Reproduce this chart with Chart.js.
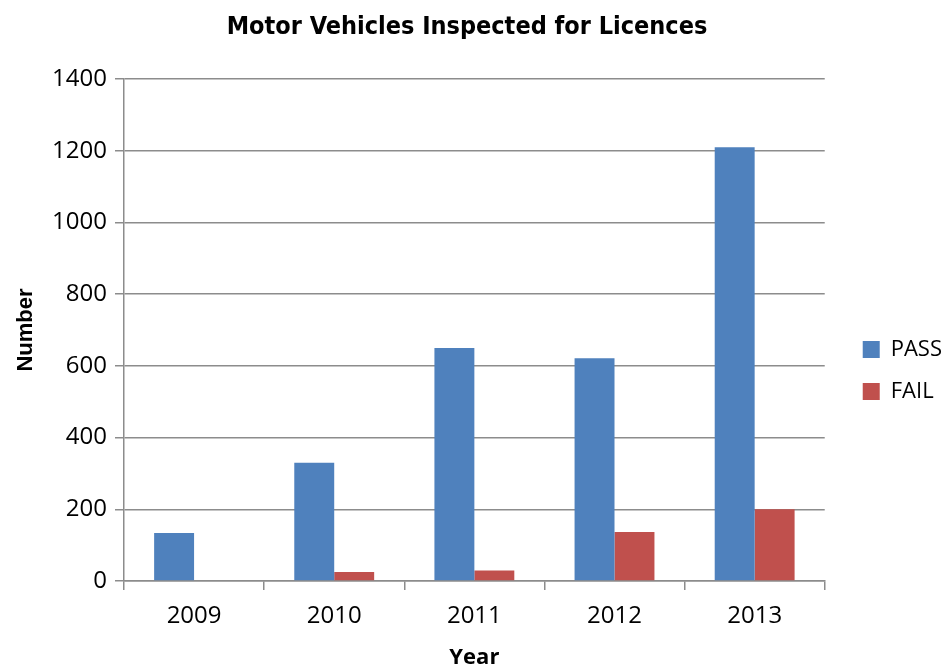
<!DOCTYPE html>
<html>
<head>
<meta charset="utf-8">
<title>Motor Vehicles Inspected for Licences</title>
<script src="https://cdn.jsdelivr.net/npm/chart.js@4/dist/chart.umd.min.js"></script>
<style>
  html, body { margin: 0; padding: 0; background: #fff; }
  #wrap { width: 948px; height: 671px; position: relative; }
</style>
</head>
<body>
<div id="wrap"><canvas id="inspectChart"></canvas></div>
<script>
// data
const years = ['2009', '2010', '2011', '2012', '2013'];
const passCounts = [134, 330, 650, 621, 1210];
const failCounts = [0, 25, 29, 137, 200];
const yTicks = [0, 200, 400, 600, 800, 1000, 1200, 1400];

const gridGray = '#8c8c8c';
const tickFont = { family: '"Open Sans"', size: 24 };

// nudge the legend down/right a bit, like the original
const legendNudge = {
    id: 'legendNudge',
    afterLayout(chart) {
        const lg = chart.legend;
        if (!lg) return;
        lg.top += 35; lg.bottom += 35;
        lg.left += 18; lg.right += 18;
    }
};

const ctx = document.getElementById('inspectChart').getContext('2d');

new Chart(ctx, {
    type: 'bar',
    data: {
        labels: years,
        datasets: [
            { label: 'PASS', data: passCounts, backgroundColor: '#4f81bd', borderWidth: 0 },
            { label: 'FAIL', data: failCounts, backgroundColor: '#c0504d', borderWidth: 0 }
        ]
    },
    plugins: [legendNudge],
    options: {
        responsive: true,
        maintainAspectRatio: false,
        animation: false,
        layout: { padding: { left: 0, right: 14, top: 0, bottom: 0 } },
        datasets: {
            bar: { categoryPercentage: 0.57, barPercentage: 1.0 }
        },
        plugins: {
            title: {
                display: true,
                text: 'Motor Vehicles Inspected for Licences',
                color: '#000',
                font: { family: '"DejaVu Sans Condensed", "Liberation Sans", Arial', size: 25, weight: 'bold' },
                padding: { top: 12, bottom: 37 }
            },
            legend: {
                position: 'right',
                labels: {
                    color: '#000',
                    font: { family: '"Open Sans"', size: 22 },
                    boxWidth: 17,
                    boxHeight: 17,
                    padding: 20
                }
            },
            tooltip: { enabled: false }
        },
        scales: {
            x: {
                grid: {
                    offset: true,
                    drawOnChartArea: false,
                    color: gridGray,
                    lineWidth: 1.5,
                    tickLength: 9
                },
                border: { color: gridGray, width: 1.5 },
                ticks: {
                    color: '#000',
                    font: tickFont,
                    padding: 12
                },
                title: {
                    display: true,
                    text: 'Year',
                    color: '#000',
                    font: { family: '"Open Sans"', size: 22, weight: 'bold' },
                    padding: { top: 4, bottom: 0 }
                },
                afterFit: (scale) => { scale.height = 90; }
            },
            y: {
                min: 0,
                max: 1400,
                afterBuildTicks: (scale) => { scale.ticks = yTicks.map(v => ({ value: v })); },
                grid: {
                    color: gridGray,
                    lineWidth: 1.5,
                    tickLength: 9
                },
                border: { color: gridGray, width: 1.5 },
                ticks: {
                    color: '#000',
                    font: tickFont,
                    padding: 8,
                    callback: (v) => String(v)
                },
                title: {
                    display: true,
                    text: 'Number',
                    color: '#000',
                    font: { family: '"Liberation Sans", Arial', size: 22, weight: 'bold' },
                    padding: { top: 13, bottom: 0 }
                },
                afterFit: (scale) => { scale.width = 124; }
            }
        }
    }
});
</script>
</body>
</html>
